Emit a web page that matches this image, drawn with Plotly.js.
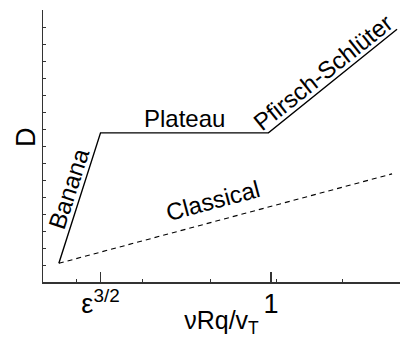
<!DOCTYPE html>
<html>
<head>
<meta charset="utf-8">
<script src="https://cdn.plot.ly/plotly-3.0.1.min.js"></script>
<style>html,body{margin:0;padding:0;background:#fff;}#chart{width:401px;height:338px;}</style>
</head>
<body>
<div id="chart"></div>
<script>
// Neoclassical transport regimes (schematic, log-log units)
const xRegime = [-3.21, -2.58, -0.04, 1.905];
const yRegime = [1.10, 8.77, 8.77, 14.87];
const xClassical = [-3.21, 1.83];
const yClassical = [1.10, 6.36];

const xTickVals = [-2.58, 0];
const xTickText = ["ε<sup>3/2</sup>", "1"];
const xMinorVals = [-2.95, -1.94, -0.92, 0.08, 1.08];
const yTickVals = [1, 2, 3, 4, 5, 6, 7, 8, 9, 10, 11, 12, 13, 14, 15];

const labelText = ["Banana", "Plateau", "Pfirsch-Schlüter", "Classical"];
const labelX = [-3.06, -1.317, 0.78, -0.878];
const labelY = [5.50, 9.61, 12.35, 4.77];
const labelAngle = [-72, 0, -38.6, -15];

const FONT = "Liberation Sans, Arial, sans-serif";
const AX = "#333";

const traces = [
  {x: xRegime, y: yRegime, type: "scatter", mode: "lines",
   line: {color: "#000", width: 1.4}, hoverinfo: "skip"},
  {x: xClassical, y: yClassical, type: "scatter", mode: "lines",
   line: {color: "#000", width: 1.1, dash: "5px,4px"}, hoverinfo: "skip"}
];

const annotations = labelText.map((t, i) => ({
  x: labelX[i], y: labelY[i], xref: "x", yref: "y", text: t,
  textangle: labelAngle[i], showarrow: false,
  xanchor: "center", yanchor: "middle",
  font: {family: FONT, size: 24, color: "#000"}
}));
annotations.push({
  x: -0.048, y: 0.533, xref: "paper", yref: "paper", text: "D",
  textangle: -90, showarrow: false, xanchor: "center", yanchor: "middle",
  font: {family: FONT, size: 27, color: "#000"}
});

const layout = {
  width: 401, height: 338,
  margin: {l: 43, r: 1, t: 10, b: 56},
  paper_bgcolor: "#fff", plot_bgcolor: "#fff",
  showlegend: false,
  font: {family: FONT, color: "#000"},
  xaxis: {
    range: [-3.45, 1.95], showgrid: false, zeroline: false,
    showline: true, linecolor: AX, linewidth: 1.5,
    tickmode: "array", tickvals: xTickVals, ticktext: xTickText,
    ticks: "inside", ticklen: 10, tickwidth: 1.2, tickcolor: AX,
    ticklabelstandoff: -3,
    tickfont: {family: FONT, size: 27, color: "#000"},
    minor: {tickmode: "array", tickvals: xMinorVals, ticks: "inside", ticklen: 3, tickwidth: 1, tickcolor: AX},
    title: {text: "νRq/v<sub>T</sub>", font: {family: FONT, size: 25, color: "#000"}, standoff: 2}
  },
  xaxis2: {
    overlaying: "x", side: "top", anchor: "y", matches: "x",
    range: [-3.45, 1.95], showgrid: false, zeroline: false,
    showline: true, linecolor: AX, linewidth: 1.5,
    tickmode: "array", tickvals: xMinorVals, ticks: "inside", ticklen: 3, tickwidth: 1, tickcolor: AX,
    showticklabels: false
  },
  yaxis: {
    range: [0, 16], showgrid: false, zeroline: false,
    showline: true, linecolor: AX, linewidth: 1.5,
    tickmode: "array", tickvals: yTickVals,
    ticks: "inside", ticklen: 3, tickwidth: 1, tickcolor: AX,
    showticklabels: false
  },
  annotations: annotations
};

Plotly.newPlot("chart", traces, layout, {displayModeBar: false, staticPlot: true});
</script>
</body>
</html>
